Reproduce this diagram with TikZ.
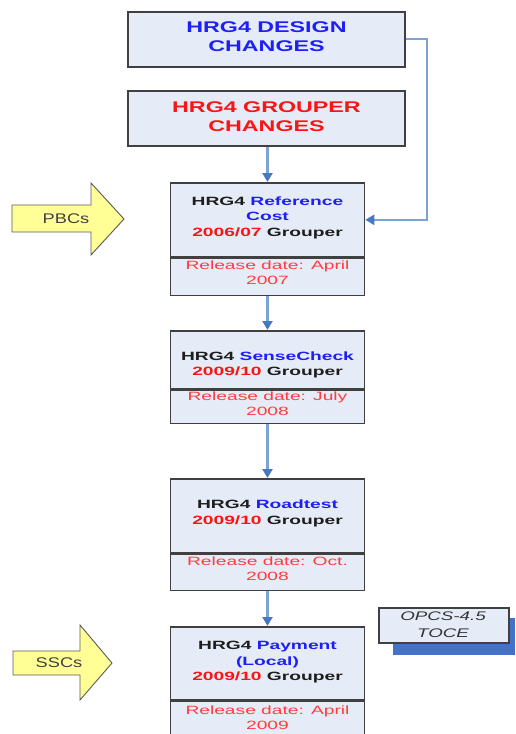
\documentclass[tikz,border=0pt]{standalone}
\usepackage{fontspec}
\setmainfont{Liberation Sans}
\newfontfamily\headfont[FakeStretch=1.5]{Liberation Sans}
\newfontfamily\wfont[FakeStretch=1.6]{Liberation Sans}
\newfontfamily\opfont[FakeStretch=1.5]{Liberation Sans}
\newfontfamily\arfont[FakeStretch=1.3]{Liberation Sans}
\usetikzlibrary{arrows.meta,shadows}
\definecolor{boxfill}{RGB}{230,236,247}
\definecolor{boxline}{RGB}{64,64,64}
\definecolor{hblue}{RGB}{30,30,250}
\definecolor{hred}{RGB}{250,20,20}
\definecolor{rred}{RGB}{255,60,60}
\definecolor{tdark}{RGB}{30,30,30}
\definecolor{connline}{RGB}{125,163,214}
\definecolor{conntip}{RGB}{72,120,192}
\definecolor{arrfill}{RGB}{255,255,150}
\definecolor{arrline}{RGB}{90,90,90}
\definecolor{shadowblue}{RGB}{68,114,196}
\tikzset{
  box/.style={draw=boxline, line width=1.6pt, fill=boxfill, inner sep=0pt,
    drop shadow={shadow xshift=1.2pt, shadow yshift=-1.2pt, fill=black!35, opacity=0.6}},
  part/.style={draw=boxline, line width=1.6pt, fill=boxfill, inner sep=0pt, minimum width=194pt},
  headtext/.style={align=center, font=\headfont\bfseries\fontsize{15.5}{19}\selectfont, inner sep=0pt},
  boxtext/.style={align=center, text=tdark, font=\wfont\bfseries\fontsize{12}{15.5}\selectfont, inner sep=0pt},
  reltext/.style={align=center, text=rred, font=\wfont\fontsize{12}{15}\selectfont, inner sep=0pt},
  conn/.style={draw=connline, line width=2.2pt, -{Triangle[width=10pt,length=9pt,color=conntip]}},
  fatarrow/.style={draw=arrline, line width=0.9pt, fill=arrfill, line join=miter},
  arrtext/.style={text=black!75, font=\arfont\fontsize{14}{16}\selectfont, inner sep=0pt},
}
\begin{document}
\begin{tikzpicture}[x=1pt,y=-1pt]
\useasboundingbox (0,0) rectangle (515,734);
\clip (0,0) rectangle (515,734);

% header boxes
\node[box, minimum width=277pt, minimum height=55pt, anchor=north] (design) at (266.5,11) {};
\node[headtext, text=hblue] (designt) at (266.5,37) {HRG4 DESIGN\\CHANGES};
\node[box, minimum width=277pt, minimum height=55pt, anchor=north] (grouper) at (266.5,90) {};
\node[headtext, text=hred] (groupert) at (266.5,117) {HRG4 GROUPER\\CHANGES};

% box 1
\node[part, minimum height=74pt, anchor=north] (b1) at (267.5,182) {};
\node[part, minimum height=37pt, anchor=north] (r1) at (b1.south) {};
\node[boxtext] (t1) at (267.5,217.5) {HRG4 \textcolor{hblue}{Reference}\\\textcolor{hblue}{Cost}\\\textcolor{hred}{2006/07} Grouper};
\node[reltext] (l1) at (267.5,273) {Release date: April\\2007};

% box 2
\node[part, minimum height=58pt, anchor=north] (b2) at (267.5,330) {};
\node[part, minimum height=33pt, anchor=north] (r2) at (b2.south) {};
\node[boxtext] (t2) at (267.5,365) {HRG4 \textcolor{hblue}{SenseCheck}\\\textcolor{hred}{2009/10} Grouper};
\node[reltext] (l2) at (267.5,403.5) {Release date: July\\2008};

% box 3
\node[part, minimum height=74pt, anchor=north] (b3) at (267.5,478) {};
\node[part, minimum height=36pt, anchor=north] (r3) at (b3.south) {};
\node[boxtext] (t3) at (267.5,513.5) {HRG4 \textcolor{hblue}{Roadtest}\\\textcolor{hred}{2009/10} Grouper};
\node[reltext] (l3) at (267.5,568.5) {Release date: Oct.\\2008};

% box 4
\node[part, minimum height=73pt, anchor=north] (b4) at (267.5,626) {};
\node[part, minimum height=48pt, anchor=north] (r4) at (b4.south) {};
\node[boxtext] (t4) at (267.5,662.5) {HRG4 \textcolor{hblue}{Payment}\\\textcolor{hblue}{(Local)}\\\textcolor{hred}{2009/10} Grouper};
\node[reltext] (l4) at (267.5,718) {Release date: April\\2009};

% OPCS box with blue shadow
\fill[shadowblue] (393,618) rectangle (515,655);
\node[draw=boxline, line width=1.5pt, fill=boxfill, minimum width=130pt, minimum height=35pt,
  anchor=north west, inner sep=0pt] (opcs) at (378,607) {};
\node[align=center, text=black!80, font=\opfont\itshape\fontsize{12.5}{16.5}\selectfont, inner sep=0pt] (opcst) at (443,624.5) {OPCS-4.5\\TOCE};

% connectors
\draw[conn] (grouper.south -| b1.north) -- (b1.north);
\draw[conn] (design.east) -- ++(21,0) |- (b1.east);
\draw[conn] (r1.south) -- (b2.north);
\draw[conn] (r2.south) -- (b3.north);
\draw[conn] (r3.south) -- (b4.north);

% fat arrows
\draw[fatarrow] (12,205) -- (91,205) -- (91,183) -- (124,219) -- (91,255) -- (91,232) -- (12,232) -- cycle;
\node[arrtext] (pbc) at (66,218.5) {PBCs};
\draw[fatarrow] (13,651) -- (80,651) -- (80,625) -- (112,663) -- (80,700) -- (80,675) -- (13,675) -- cycle;
\node[arrtext] (ssc) at (59,662.5) {SSCs};
\end{tikzpicture}
\end{document}
